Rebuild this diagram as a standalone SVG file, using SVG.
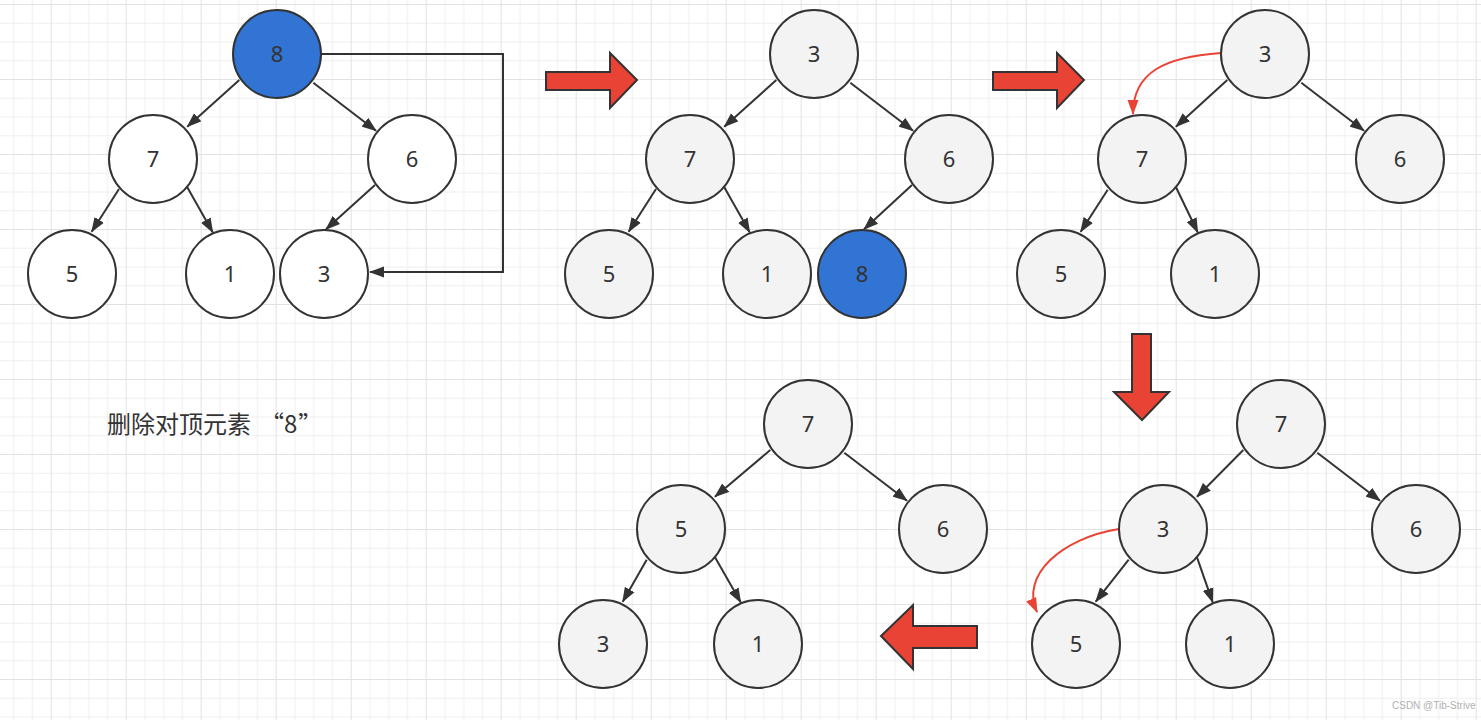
<svg xmlns="http://www.w3.org/2000/svg" width="1481" height="720" viewBox="0 0 1481 720">
<defs>
<pattern id="grid" x="50.7" y="4" width="75" height="75" patternUnits="userSpaceOnUse">
<rect x="0" y="0" width="75" height="75" fill="#ffffff"/>
<rect x="18.75" y="0" width="1" height="75" fill="#efefef"/>
<rect x="37.5" y="0" width="1" height="75" fill="#efefef"/>
<rect x="56.25" y="0" width="1" height="75" fill="#efefef"/>
<rect x="0" y="18.75" width="75" height="1" fill="#efefef"/>
<rect x="0" y="37.5" width="75" height="1" fill="#efefef"/>
<rect x="0" y="56.25" width="75" height="1" fill="#efefef"/>
<rect x="0" y="0" width="1" height="75" fill="#e2e2e2"/>
<rect x="0" y="0" width="75" height="1" fill="#e2e2e2"/>
</pattern>
<marker id="ah" markerUnits="userSpaceOnUse" markerWidth="16" markerHeight="12" refX="14" refY="6" orient="auto">
<path d="M0,0.5 L15,6 L0,11.5 Z" fill="#333333"/>
</marker>
<marker id="ahr" markerUnits="userSpaceOnUse" markerWidth="16" markerHeight="12" refX="14" refY="6" orient="auto">
<path d="M0,0.5 L15,6 L0,11.5 Z" fill="#e94335"/>
</marker>
<style>
.n circle{stroke:#333333;stroke-width:2}
.w circle{fill:#ffffff}
.g circle{fill:#f3f3f3}
.b circle{fill:#3174d4}
.n text{font-family:"Noto Sans","Liberation Sans",sans-serif;font-size:22px;fill:#333333;text-anchor:middle}
.e path{fill:none;stroke:#333333;stroke-width:2;marker-end:url(#ah)}
.e path.r{stroke:#e94335;marker-end:url(#ahr)}
.big{fill:#e94335;stroke:#333333;stroke-width:2;stroke-linejoin:miter}
</style>
</defs>
<rect x="0" y="0" width="1481" height="720" fill="url(#grid)"/>

<g id="connectors" class="e">
<!-- tree 1 -->
<path d="M239.3,80 L187.3,126.7"/>
<path d="M313.3,82.7 L376,130.7"/>
<path d="M119,189 L91.7,231.7"/>
<path d="M187.3,187.3 L212.7,232.3"/>
<path d="M375,185 L326,229.3"/>
<path d="M321,54 L503,54 L503,272 L370,272"/>
<!-- tree 2 -->
<path d="M776.3,80 L724.3,126.7"/>
<path d="M850.3,82.7 L913,130.7"/>
<path d="M656,189 L628.7,231.7"/>
<path d="M724.3,187.3 L749.7,232.3"/>
<path d="M912,185 L864,229.3"/>
<!-- tree 3 -->
<path d="M1227.3,80 L1176,126.7"/>
<path d="M1301.3,82.7 L1364,130.7"/>
<path d="M1107.7,189.7 L1080.7,231.7"/>
<path d="M1176,187.3 L1197.7,232.3"/>
<path class="r" d="M1221,53 C1165,57 1133,72 1133,114"/>
<!-- tree 4 -->
<path d="M1243.3,450 L1197,496.7"/>
<path d="M1317.3,452.7 L1380,500.7"/>
<path d="M1128.7,559.7 L1095.7,601.7"/>
<path d="M1197,557.3 L1212.7,602.3"/>
<path class="r" d="M1119,529 C1062,538 1020,575 1037,612"/>
<!-- tree 5 -->
<path d="M770.3,450 L715,496.7"/>
<path d="M844.3,452.7 L907,500.7"/>
<path d="M646.7,559.7 L622.7,601.7"/>
<path d="M715,557.3 L740.7,602.3"/>
</g>

<!-- tree 1 -->
<g id="t1-8" class="n b"><circle cx="277" cy="54" r="44"/><text x="277" y="62">8</text></g>
<g id="t1-7" class="n w"><circle cx="153" cy="159" r="44"/><text x="153" y="167">7</text></g>
<g id="t1-6" class="n w"><circle cx="412" cy="159" r="44"/><text x="412" y="167">6</text></g>
<g id="t1-5" class="n w"><circle cx="72" cy="274" r="44"/><text x="72" y="282">5</text></g>
<g id="t1-1" class="n w"><circle cx="230" cy="274" r="44"/><text x="230" y="282">1</text></g>
<g id="t1-3" class="n w"><circle cx="324" cy="274" r="44"/><text x="324" y="282">3</text></g>

<!-- tree 2 -->
<g id="t2-3" class="n g"><circle cx="814" cy="54" r="44"/><text x="814" y="62">3</text></g>
<g id="t2-7" class="n g"><circle cx="690" cy="159" r="44"/><text x="690" y="167">7</text></g>
<g id="t2-6" class="n g"><circle cx="949" cy="159" r="44"/><text x="949" y="167">6</text></g>
<g id="t2-5" class="n g"><circle cx="609" cy="274" r="44"/><text x="609" y="282">5</text></g>
<g id="t2-1" class="n g"><circle cx="767" cy="274" r="44"/><text x="767" y="282">1</text></g>
<g id="t2-8" class="n b"><circle cx="862" cy="274" r="44"/><text x="862" y="282">8</text></g>

<!-- tree 3 -->
<g id="t3-3" class="n g"><circle cx="1265" cy="54" r="44"/><text x="1265" y="62">3</text></g>
<g id="t3-7" class="n g"><circle cx="1142" cy="159" r="44"/><text x="1142" y="167">7</text></g>
<g id="t3-6" class="n g"><circle cx="1400" cy="159" r="44"/><text x="1400" y="167">6</text></g>
<g id="t3-5" class="n g"><circle cx="1061" cy="274" r="44"/><text x="1061" y="282">5</text></g>
<g id="t3-1" class="n g"><circle cx="1215" cy="274" r="44"/><text x="1215" y="282">1</text></g>

<!-- tree 4 -->
<g id="t4-7" class="n g"><circle cx="1281" cy="424" r="44"/><text x="1281" y="432">7</text></g>
<g id="t4-3" class="n g"><circle cx="1163" cy="529" r="44"/><text x="1163" y="537">3</text></g>
<g id="t4-6" class="n g"><circle cx="1416" cy="529" r="44"/><text x="1416" y="537">6</text></g>
<g id="t4-5" class="n g"><circle cx="1076" cy="644" r="44"/><text x="1076" y="652">5</text></g>
<g id="t4-1" class="n g"><circle cx="1230" cy="644" r="44"/><text x="1230" y="652">1</text></g>

<!-- tree 5 -->
<g id="t5-7" class="n g"><circle cx="808" cy="424" r="44"/><text x="808" y="432">7</text></g>
<g id="t5-5" class="n g"><circle cx="681" cy="529" r="44"/><text x="681" y="537">5</text></g>
<g id="t5-6" class="n g"><circle cx="943" cy="529" r="44"/><text x="943" y="537">6</text></g>
<g id="t5-3" class="n g"><circle cx="603" cy="644" r="44"/><text x="603" y="652">3</text></g>
<g id="t5-1" class="n g"><circle cx="758" cy="644" r="44"/><text x="758" y="652">1</text></g>

<!-- big arrows -->
<g id="arrow-right-1"><polygon class="big" points="546,72 610,72 610,53 637,80 610,108 610,90 546,90"/></g>
<g id="arrow-right-2"><polygon class="big" points="993,72 1057,72 1057,53 1084,80 1057,108 1057,90 993,90"/></g>
<g id="arrow-down"><polygon class="big" points="1132,334 1151,334 1151,392 1169,392 1142,420 1114,392 1132,392"/></g>
<g id="arrow-left"><polygon class="big" points="881,636 913,605 913,626 977,626 977,648 913,648 913,669"/></g>

<g id="caption"><text x="107" y="433" font-family="'Noto Sans CJK SC','Noto Sans',sans-serif" font-size="24" fill="#333333">删除对顶元素<tspan dx="9">“8</tspan><tspan dx="1">”</tspan></text></g>
<text x="1392" y="709" font-family="'Liberation Sans',sans-serif" font-size="10" fill="#b0b0b0">CSDN @Tib-Strive</text>
</svg>
